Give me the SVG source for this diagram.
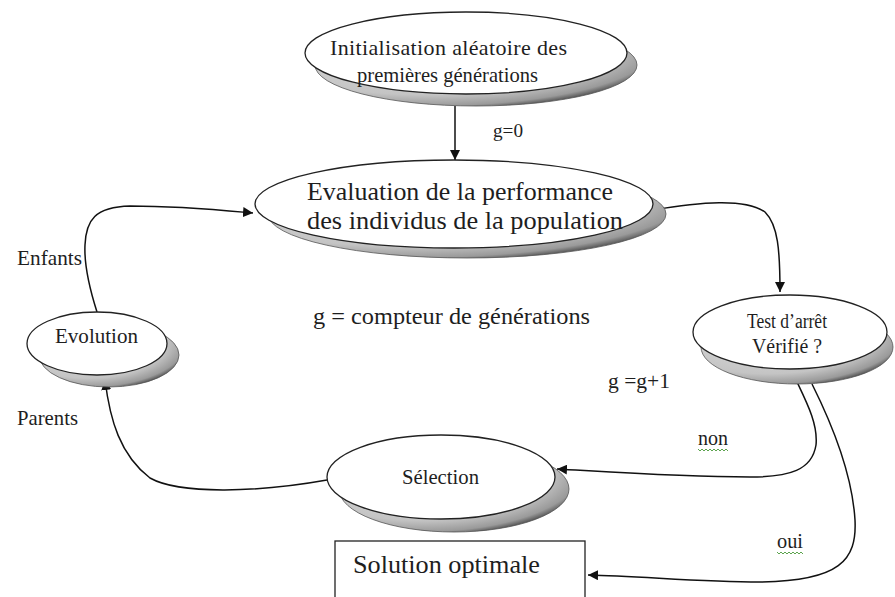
<svg xmlns="http://www.w3.org/2000/svg" width="895" height="597" viewBox="0 0 895 597">
<style>
.node{fill:#fff;stroke:#222;stroke-width:1.3}
.shadow{fill:url(#shade);stroke:#555;stroke-width:0.8}
.edge{fill:none;stroke:#111;stroke-width:1.5;marker-end:url(#arr)}
.wave{fill:none;stroke:#4a9a3a;stroke-width:0.9}
</style>
<defs>
<radialGradient id="shade" cx="0.35" cy="0.3" r="0.75">
<stop offset="0" stop-color="#e2e2e2"/>
<stop offset="0.75" stop-color="#c4c4c4"/>
<stop offset="0.93" stop-color="#9a9a9a"/>
<stop offset="1" stop-color="#555"/>
</radialGradient>
<marker id="arr" viewBox="0 0 10 10" refX="10" refY="5" markerWidth="10" markerHeight="10" markerUnits="userSpaceOnUse" orient="auto">
<path d="M0,0 L10,5 L0,10 z" fill="#111"/>
</marker>
</defs>

<g id="connectors">
<path class="edge" d="M455,106 L455,160"/>
<path class="edge" d="M653,210 C700,202 745,198 765,212 C778,225 780,250 780,292"/>
<path class="edge" d="M797,382 C808,405 818,425 816,445 C812,470 790,477 750,477 C680,477 610,472 557,469"/>
<path class="edge" d="M812,384 C830,420 852,470 855,520 C857,560 840,581 760,582 C700,582 640,576 588,575"/>
<path class="edge" d="M327,480 C260,492 180,495 150,478 C120,455 110,420 105,380"/>
<path class="edge" d="M97,312 C90,290 84,265 85,245 C86,220 95,207 130,206 C180,206 220,210 253,213"/>
</g>

<g id="n-init">
<ellipse class="shadow" cx="476" cy="65" rx="161" ry="41"/>
<ellipse class="node" cx="466" cy="53" rx="161" ry="41"/>
<text x="330" y="55" font-family="Liberation Serif, serif" font-size="22" fill="#1e1e1e" textLength="237" lengthAdjust="spacing">Initialisation aléatoire des</text>
<text x="357" y="82" font-family="Liberation Serif, serif" font-size="22" fill="#1e1e1e" textLength="181" lengthAdjust="spacingAndGlyphs">premières générations</text>
</g>

<g id="n-eval">
<ellipse class="shadow" cx="467" cy="214" rx="199" ry="44"/>
<ellipse class="node" cx="454" cy="204" rx="199" ry="44"/>
<text x="307" y="200" font-family="Liberation Serif, serif" font-size="26" fill="#1e1e1e" textLength="306" lengthAdjust="spacingAndGlyphs">Evaluation de la performance</text>
<text x="307" y="229" font-family="Liberation Serif, serif" font-size="26" fill="#1e1e1e" textLength="316" lengthAdjust="spacingAndGlyphs">des individus de la population</text>
</g>

<g id="n-test">
<ellipse class="shadow" cx="797" cy="347" rx="96" ry="37"/>
<ellipse class="node" cx="790" cy="332" rx="97" ry="37"/>
<text x="747" y="328" font-family="Liberation Serif, serif" font-size="20" fill="#1e1e1e" textLength="80" lengthAdjust="spacingAndGlyphs">Test d’arrêt</text>
<text x="752" y="353" font-family="Liberation Serif, serif" font-size="20" fill="#1e1e1e" textLength="70" lengthAdjust="spacingAndGlyphs">Vérifié ?</text>
</g>

<g id="n-evolution">
<ellipse class="shadow" cx="109" cy="355" rx="70" ry="32"/>
<ellipse class="node" cx="97" cy="343.5" rx="70" ry="31.5"/>
<text x="55" y="343" font-family="Liberation Serif, serif" font-size="21" fill="#1e1e1e" textLength="83" lengthAdjust="spacingAndGlyphs">Evolution</text>
</g>

<g id="n-selection">
<ellipse class="shadow" cx="454" cy="489" rx="115" ry="43"/>
<ellipse class="node" cx="441" cy="477" rx="114" ry="42"/>
<text x="402" y="484" font-family="Liberation Serif, serif" font-size="21" fill="#1e1e1e" textLength="77" lengthAdjust="spacingAndGlyphs">Sélection</text>
</g>

<g id="n-solution">
<rect x="335" y="541" width="250" height="70" fill="#fff" stroke="#222" stroke-width="1.3"/>
<text x="353" y="573" font-family="Liberation Serif, serif" font-size="26" fill="#1e1e1e" textLength="187" lengthAdjust="spacingAndGlyphs">Solution optimale</text>
</g>

<g id="labels">
<text x="493" y="137" font-family="Liberation Serif, serif" font-size="19" fill="#1e1e1e" textLength="30" lengthAdjust="spacingAndGlyphs">g=0</text>
<text x="17" y="265" font-family="Liberation Serif, serif" font-size="21" fill="#1e1e1e" textLength="65" lengthAdjust="spacingAndGlyphs">Enfants</text>
<text x="17" y="425" font-family="Liberation Serif, serif" font-size="21" fill="#1e1e1e" textLength="61" lengthAdjust="spacingAndGlyphs">Parents</text>
<text x="313" y="324" font-family="Liberation Serif, serif" font-size="24" fill="#1e1e1e" textLength="277" lengthAdjust="spacingAndGlyphs">g = compteur de générations</text>
<text x="608" y="388" font-family="Liberation Serif, serif" font-size="20" fill="#1e1e1e" textLength="62" lengthAdjust="spacingAndGlyphs">g =g+1</text>
<text x="698" y="445" font-family="Liberation Serif, serif" font-size="20" fill="#1e1e1e" textLength="30" lengthAdjust="spacingAndGlyphs">non</text>
<path class="wave" d="M698,449 l2,2 l2,-2 l2,2 l2,-2 l2,2 l2,-2 l2,2 l2,-2 l2,2 l2,-2 l2,2 l2,-2 l2,2 l2,-2 l2,2"/>
<text x="777" y="548" font-family="Liberation Serif, serif" font-size="20" fill="#1e1e1e" textLength="26" lengthAdjust="spacingAndGlyphs">oui</text>
<path class="wave" d="M777,552 l2,2 l2,-2 l2,2 l2,-2 l2,2 l2,-2 l2,2 l2,-2 l2,2 l2,-2 l2,2 l2,-2 l2,2"/>
</g>
</svg>
